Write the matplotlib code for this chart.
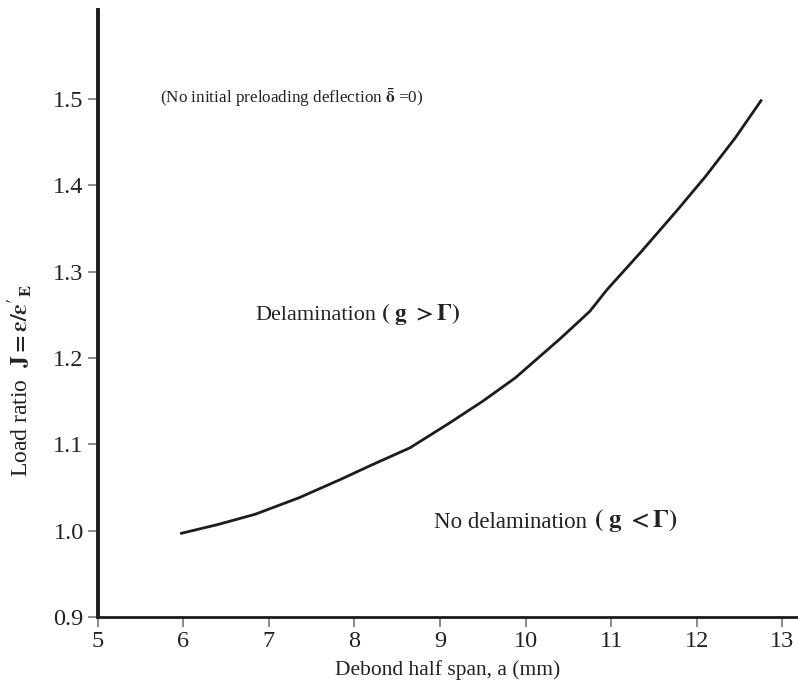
import matplotlib.pyplot as plt

plt.rcParams['font.family'] = ['Liberation Serif', 'DejaVu Serif']
plt.rcParams['mathtext.fontset'] = 'stix'

# values
span_a = [5.98, 6.40, 6.84, 7.35, 7.83, 8.20, 8.65, 9.10, 9.50, 9.88, 10.40, 10.75, 10.95, 11.35, 11.77, 12.10, 12.45, 12.75]
load_j = [0.997, 1.007, 1.019, 1.038, 1.059, 1.076, 1.096, 1.124, 1.150, 1.177, 1.222, 1.254, 1.279, 1.323, 1.371, 1.410, 1.455, 1.498]

x_ticks = [5, 6, 7, 8, 9, 10, 11, 12, 13]
y_ticks = [0.9, 1.0, 1.1, 1.2, 1.3, 1.4, 1.5]

fig = plt.figure(figsize=(7.98, 6.98), dpi=100)
ax = fig.add_axes([0.1223, 0.116, 0.8764, 0.8697])

ax.plot(span_a, load_j, color='#1e1c1a', lw=2.0)

ax.set_xlim(5, 13.17)
ax.set_ylim(0.9, 1.603)
ax.set_xticks(x_ticks)
ax.set_yticks(y_ticks)
ax.set_yticklabels(['%.1f' % v for v in y_ticks])

for s in ['top', 'right']:
    ax.spines[s].set_visible(False)
ax.spines['left'].set_linewidth(2.8)
ax.spines['bottom'].set_linewidth(2.0)
ax.spines['left'].set_color('#1e1c1a')
ax.spines['bottom'].set_color('#1e1c1a')
ax.tick_params(axis='both', direction='out', length=7, width=1.2, color='#777777',
               labelsize=17.5, labelcolor='#222222', pad=3)

ax.set_xlabel('Debond half span, a (mm)', fontsize=15.5, color='#222222', labelpad=6)
ax.set_ylabel(r"Load ratio  $\mathbf{J{=}\epsilon/\epsilon'_E}$", fontsize=17, color='#222222')
ax.yaxis.set_label_coords(-0.092, 0.39)

ax.text(5.73, 1.501, r'(No initial preloading deflection $\mathbf{\bar{\delta}}$ =0)',
        fontsize=12.3, va='center', color='#222222')
ax.text(6.84, 1.249, 'Delamination', fontsize=16, va='center', color='#222222')
ax.text(8.31, 1.251, r'$\mathbf{(\ g\ >\Gamma)}$', fontsize=17, va='center', color='#222222')
ax.text(8.93, 1.010, 'No delamination', fontsize=16.5, va='center', color='#222222')
ax.text(10.80, 1.012, r'$\mathbf{(\ g\ <\Gamma)}$', fontsize=18, va='center', color='#222222')

fig.savefig('out.png', dpi=100)
